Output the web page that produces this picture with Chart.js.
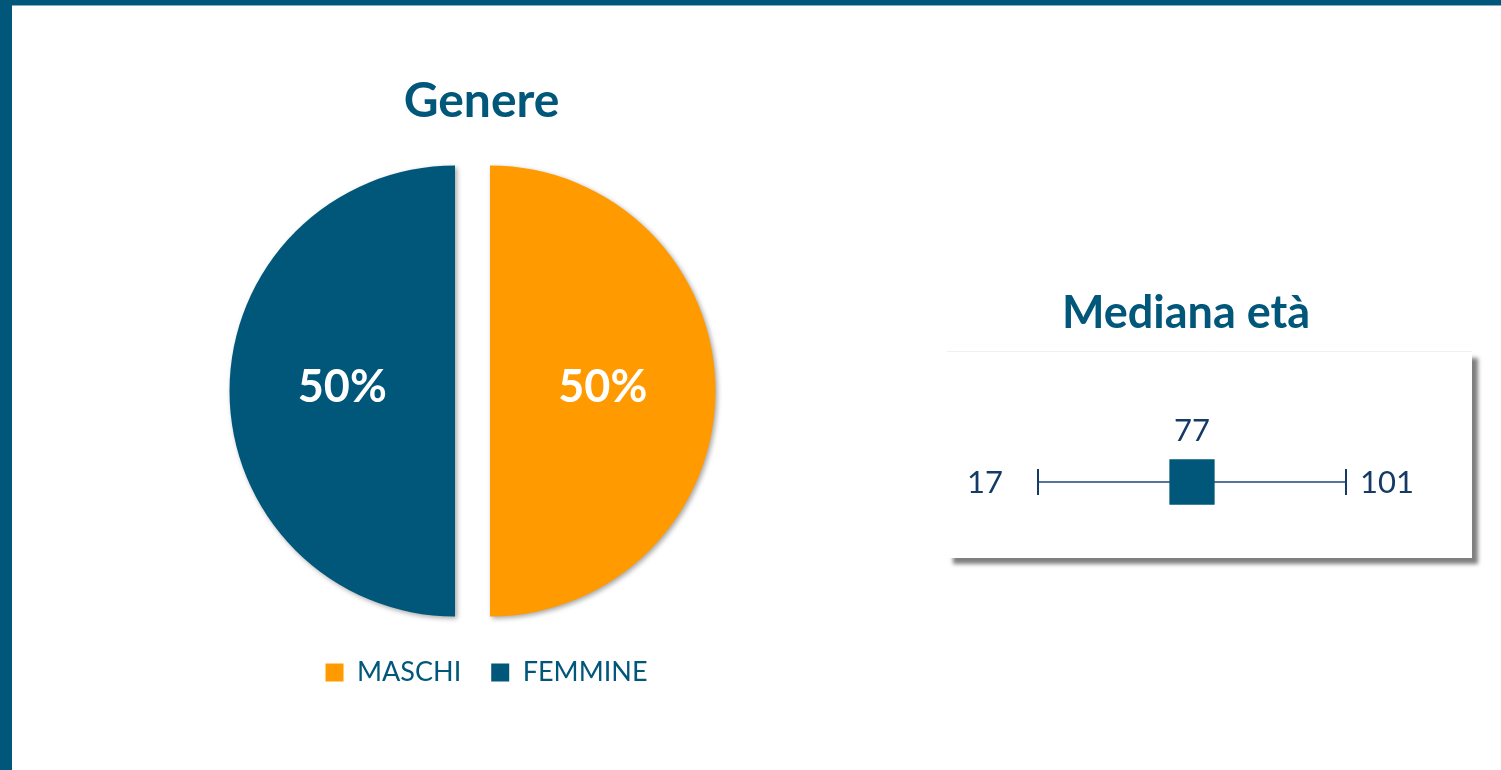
<!DOCTYPE html>
<html><head><meta charset="utf-8">
<script src="https://cdn.jsdelivr.net/npm/chart.js@4.4.1/dist/chart.umd.min.js"></script>
<style>
html,body{margin:0;padding:0;background:#fff;width:1501px;height:770px;overflow:hidden;}
#frame{position:absolute;left:0;top:0;width:1501px;height:770px;box-sizing:border-box;border-top:5px solid #01577a;border-left:12px solid #01577a;}
#topline{position:absolute;left:12px;top:5px;width:1489px;height:1px;background:#86aebf;}
#pieBox{position:absolute;left:172px;top:40px;width:601px;height:690px;}
#ageBox{position:absolute;left:886px;top:280px;width:600px;height:400px;}
</style></head><body>
<div id="frame"></div><div id="topline"></div>
<div id="pieBox"><canvas id="pieChart"></canvas></div>
<div id="ageBox"><canvas id="ageChart"></canvas></div>
<script>
const genderLabels = ['MASCHI', 'FEMMINE'];
const genderValues = [50, 50];
const genderColors = ['#FF9A00', '#01577A'];

const ageLabels = ['Minimo', 'Mediana', 'Massimo'];
const ageValues = [17, 77, 101];

const TEAL = '#01577A';
const NAVY = '#163a66';
const EXPLODE = 17.5;

// Explodes each slice outward along its mid angle (straight cut edges), with a soft shadow
const pieExplode = {
  id: 'pieExplode',
  beforeDatasetsDraw(chart) {
    const c = chart.ctx; c.save();
    c.shadowColor = 'rgba(0,0,0,0.35)'; c.shadowBlur = 5; c.shadowOffsetX = 2; c.shadowOffsetY = 2;
    chart.getDatasetMeta(0).data.forEach(arc => {
      if (arc._exploded) return;
      const orig = arc.draw;
      arc.draw = function (ctx) {
        const mid = (this.startAngle + this.endAngle) / 2;
        ctx.save();
        ctx.translate(Math.cos(mid) * EXPLODE, Math.sin(mid) * EXPLODE);
        orig.call(this, ctx);
        ctx.restore();
      };
      arc._exploded = true;
    });
  },
  afterDatasetsDraw(chart) { chart.ctx.restore(); }
};

const pieLabels = {
  id: 'pieLabels',
  afterDraw(chart) {
    const meta = chart.getDatasetMeta(0);
    const ds = chart.data.datasets[0];
    const total = ds.data.reduce((a, b) => a + b, 0);
    const c = chart.ctx;
    c.save();
    c.font = 'bold 45px Lato'; c.fillStyle = '#ffffff';
    c.textAlign = 'center'; c.textBaseline = 'middle';
    meta.data.forEach((arc, i) => {
      const p = arc.getProps(['x', 'y', 'startAngle', 'endAngle', 'outerRadius'], true);
      const mid = (p.startAngle + p.endAngle) / 2;
      const d = EXPLODE + p.outerRadius * 0.5;
      c.fillText(Math.round(ds.data[i] / total * 100) + '%', p.x + Math.cos(mid) * d, p.y + Math.sin(mid) * d - 4);
    });
    c.restore();
  }
};

const shiftPieBoxes = {
  id: 'shiftPieBoxes',
  afterLayout(chart) {
    if (chart.titleBlock) { chart.titleBlock.left += 9; chart.titleBlock.right += 9; }
    if (chart.legend) { chart.legend.left += 14; chart.legend.right += 14; }
  }
};

new Chart(document.getElementById('pieChart'), {
  type: 'pie',
  data: {
    labels: genderLabels,
    datasets: [{
      data: genderValues,
      backgroundColor: genderColors,
      borderWidth: 0,
      offset: 0,
      hoverOffset: 0,
      radius: 225.5
    }]
  },
  options: {
    responsive: true,
    maintainAspectRatio: false,
    animation: false,
    events: [],
    layout: { padding: { bottom: 34 } },
    plugins: {
      title: {
        display: true, text: 'Genere', color: TEAL,
        font: { family: 'Lato', size: 48, weight: 'bold', lineHeight: 1.2 },
        padding: { top: 33.2, bottom: 22.2 }
      },
      legend: {
        position: 'bottom',
        labels: {
          color: TEAL, font: { family: 'Lato', size: 27 },
          boxWidth: 18, boxHeight: 18, padding: 30
        }
      },
      tooltip: { enabled: false }
    }
  },
  plugins: [pieExplode, pieLabels, shiftPieBoxes]
});

const ageBoxBg = {
  id: 'ageBoxBg',
  beforeDraw(chart) {
    const a = chart.chartArea, c = chart.ctx;
    c.save();
    c.shadowColor = 'rgba(0,0,0,0.5)'; c.shadowBlur = 4; c.shadowOffsetX = 6; c.shadowOffsetY = 6;
    c.fillStyle = '#ffffff';
    c.fillRect(a.left - 91, a.top + 2, 525, 206);
    c.restore();
    c.save();
    c.strokeStyle = 'rgba(0,0,0,0.06)'; c.lineWidth = 1;
    c.beginPath(); c.moveTo(a.left - 91, a.top + 1.5); c.lineTo(a.left + 434, a.top + 1.5); c.stroke();
    c.restore();
  }
};

const shiftAgeTitle = {
  id: 'shiftAgeTitle',
  afterLayout(chart) {
    if (chart.titleBlock) { chart.titleBlock.left -= 6; chart.titleBlock.right -= 6; }
  }
};

const ageValueLabels = {
  id: 'ageValueLabels',
  afterDatasetsDraw(chart) {
    const meta = chart.getDatasetMeta(0), c = chart.ctx;
    c.save();
    c.font = '31px Lato'; c.fillStyle = NAVY; c.textBaseline = 'middle';
    meta.data.forEach((pt, i) => {
      const v = String(ageValues[i]);
      if (i === 0) { c.textAlign = 'right'; c.fillText(v, pt.x - 35, pt.y + 1); }
      else if (i === ageValues.length - 1) { c.textAlign = 'left'; c.fillText(v, pt.x + 14, pt.y + 1); }
      else { c.textAlign = 'center'; c.fillText(v, pt.x, pt.y - 51); }
    });
    c.restore();
  }
};

new Chart(document.getElementById('ageChart'), {
  type: 'line',
  data: {
    labels: ageLabels,
    datasets: [{
      data: ageLabels.map(l => ({ x: l, y: 0 })),
      borderColor: '#52769a',
      borderWidth: 2,
      pointStyle: ['line', 'rect', 'line'],
      pointRotation: [90, 0, 90],
      pointRadius: [13, 32, 13],
      pointBorderWidth: [2, 0, 2],
      pointBorderColor: [NAVY, TEAL, NAVY],
      pointBackgroundColor: [NAVY, TEAL, NAVY],
      clip: false
    }]
  },
  options: {
    responsive: true,
    maintainAspectRatio: false,
    animation: false,
    events: [],
    layout: { padding: { left: 152, right: 140, bottom: 66 } },
    scales: {
      x: { type: 'category', display: false, offset: false },
      y: { display: false, min: -1, max: 1 }
    },
    plugins: {
      title: {
        display: true, text: 'Mediana età', color: TEAL,
        font: { family: 'Lato', size: 45, weight: 'bold', lineHeight: 1.2 },
        padding: { top: 6, bottom: 10 }
      },
      legend: { display: false },
      tooltip: { enabled: false }
    }
  },
  plugins: [ageBoxBg, ageValueLabels, shiftAgeTitle]
});
</script>
</body></html>
